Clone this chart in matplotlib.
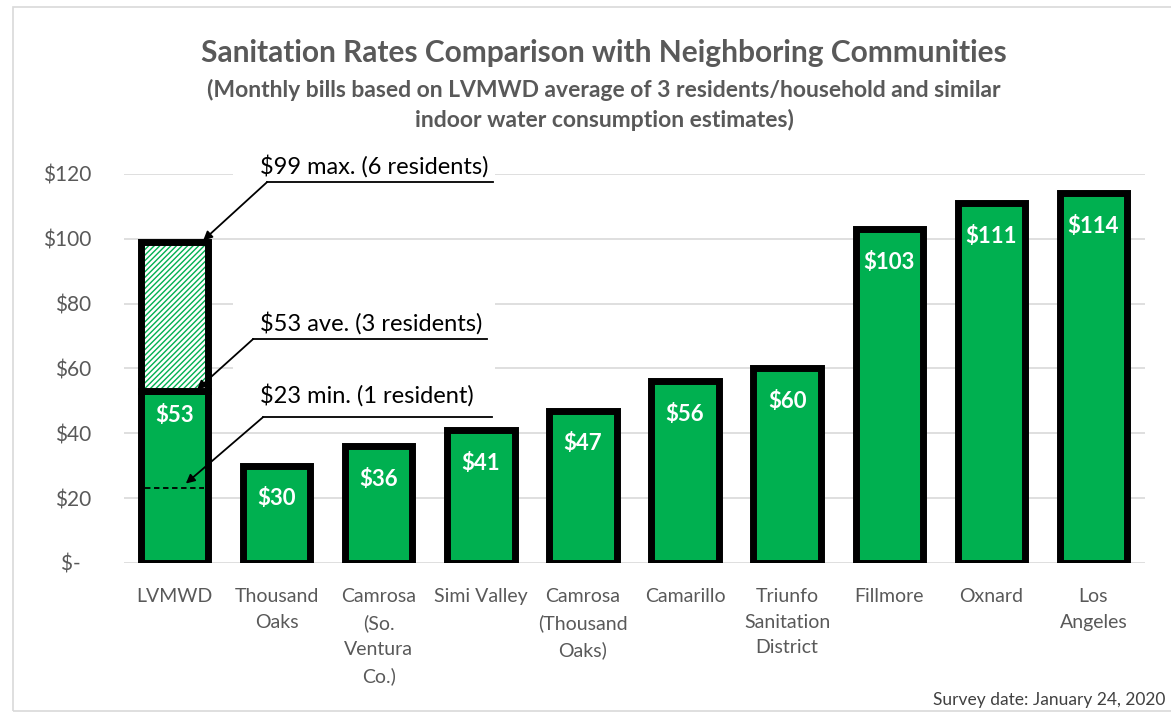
import matplotlib
matplotlib.use("Agg")
import matplotlib.pyplot as plt
from matplotlib.patches import Rectangle

plt.rcParams["font.family"] = ["Lato", "DejaVu Sans"]

# data
categories = [
    "LVMWD",
    "Thousand\nOaks",
    "Camrosa\n(So.\nVentura\nCo.)",
    "Simi Valley",
    "Camrosa\n(Thousand\nOaks)",
    "Camarillo",
    "Triunfo\nSanitation\nDistrict",
    "Fillmore",
    "Oxnard",
    "Los\nAngeles",
]
monthly_bill = [53, 30, 36, 41, 47, 56, 60, 103, 111, 114]
lvmwd_min = 23
lvmwd_avg = 53
lvmwd_max = 99
y_ticks = [0, 20, 40, 60, 80, 100, 120]
y_tick_labels = ["$-  ", "$20", "$40", "$60", "$80", "$100", "$120"]

green = "#00B050"
gray_text = "#595959"
grid_gray = "#d9d9d9"

fig = plt.figure(figsize=(11.71, 7.13), dpi=100)
ax = fig.add_axes([0.1055, 0.2104, 0.8719, 0.5456])

x = list(range(len(categories)))
bar_w = 0.66

# regular bars (LVMWD's first bar is the average, 3 residents)
ax.bar(x, monthly_bill, width=bar_w, color=green, edgecolor="black",
       linewidth=5, zorder=2)

# LVMWD range up to the max (6 residents): hatched segment
ax.bar(0, lvmwd_max - lvmwd_avg, bottom=lvmwd_avg, width=bar_w,
       facecolor="white", edgecolor=green, hatch="//////", linewidth=0, zorder=2)
ax.bar(0, lvmwd_max - lvmwd_avg, bottom=lvmwd_avg, width=bar_w,
       fill=False, edgecolor="black", linewidth=5, zorder=2.1)

# dashed line for minimum bill
ax.plot([-bar_w / 2 + 0.04, bar_w / 2 - 0.04], [lvmwd_min, lvmwd_min],
        color="black", lw=1.3, ls=(0, (3, 2)), zorder=2.2)

# value labels inside bars
for i, v in enumerate(monthly_bill):
    off = -24 if i == 0 else -33
    ax.annotate(f"${v}", (i, v), xytext=(0, off), textcoords="offset pixels",
                ha="center", va="center", color="white", fontsize=16,
                fontweight="bold", zorder=3)

# white text boxes hiding the gridlines behind the callouts
ax.add_patch(Rectangle((0.573, 112), 2.57, 9.5, facecolor="white",
                       edgecolor="none", zorder=1, clip_on=False))
ax.add_patch(Rectangle((0.573, 56), 2.57, 27, facecolor="white",
                       edgecolor="none", zorder=1, clip_on=False))

# callouts: text, underline, arrow
callouts = [
    ("$99 max. (6 residents)", 122.4, 117.5, 0.906, 3.12, (0.28, 99.5)),
    ("$53 ave. (3 residents)", 74.0, 69.1, 0.77, 3.06, (0.22, 53.5)),
    ("$23 min. (1 resident)", 51.8, 45.0, 0.867, 3.11, (0.11, 24.5)),
]
for label, ty, uy, ux0, ux1, tip in callouts:
    ax.text(0.837, ty, label, ha="left", va="center", fontsize=17,
            color="black", zorder=4, clip_on=False)
    ax.plot([ux0, ux1], [uy, uy], color="black", lw=1.3, zorder=4,
            clip_on=False)
    ax.annotate("", xy=tip, xytext=(ux0, uy),
                arrowprops=dict(arrowstyle="-|>", color="black", lw=1.3,
                                mutation_scale=13, shrinkA=0, shrinkB=0),
                zorder=4, annotation_clip=False)

ax.set_xlim(-0.5, len(categories) - 0.5)
ax.set_ylim(0, 120)
ax.set_yticks(y_ticks)
ax.set_yticklabels(y_tick_labels)
ax.set_xticks(x)
ax.set_xticklabels(categories, linespacing=1.62)
ax.tick_params(axis="y", length=0, pad=23, labelsize=15, labelcolor=gray_text)
ax.tick_params(axis="x", length=0, pad=18, labelsize=14, labelcolor=gray_text)
for s in ax.spines.values():
    s.set_visible(False)
ax.set_axisbelow(True)
ax.yaxis.grid(True, color=grid_gray, lw=1.2, zorder=0.5)

# titles
fig.text(0.516, 0.925, "Sanitation Rates Comparison with Neighboring Communities",
         ha="center", va="center", fontsize=21.5, fontweight="bold", color=gray_text)
fig.text(0.516, 0.874,
         "(Monthly bills based on LVMWD average of 3 residents/household and similar",
         ha="center", va="center", fontsize=16.5, fontweight="bold", color=gray_text)
fig.text(0.516, 0.832, "indoor water consumption estimates)",
         ha="center", va="center", fontsize=16.5, fontweight="bold", color=gray_text)

fig.text(0.995, 0.018, "Survey date: January 24, 2020", ha="right", va="center",
         fontsize=12.5, color="#404040")

# chart-area border
fig.add_artist(Rectangle((13 / 1171, 0.003), 1.0, 0.987, transform=fig.transFigure,
                         fill=False, edgecolor=grid_gray, lw=1.2))

fig.savefig("out.png", dpi=100)
